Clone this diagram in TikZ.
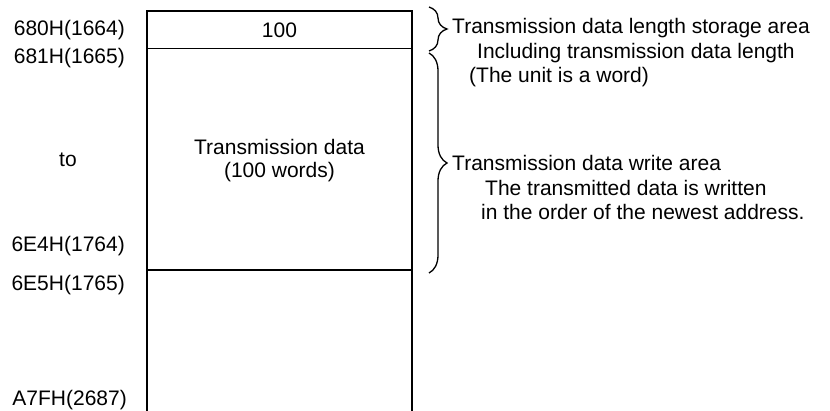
\documentclass[tikz,border=0pt]{standalone}
\usepackage{fontspec}
\setmainfont{Liberation Sans}
\usetikzlibrary{decorations.pathreplacing}
\begin{document}
\begin{tikzpicture}[x=1pt,y=-1pt,
    font=\fontsize{21}{25}\selectfont,
    addr/.style={anchor=east,inner sep=0pt},
    note/.style={anchor=west,inner sep=0pt},
    areabrace/.style={decorate,decoration={brace,amplitude=18pt},line width=1.3pt}]
    \useasboundingbox (0,0) rectangle (830,411);
    \draw[line width=1.7pt] (147,411) -- (147,11) -- (412,11) -- (412,411);
    \draw[line width=1.2pt] (147,48.5) -- (412,48.5);
    \draw[line width=1.2pt] (147,270) -- (412,270);
    \node (len) at (279.5,30) {100};
    \node[inner sep=0pt] (data1) at (279.5,147) {Transmission data};
    \node[inner sep=0pt] (data2) at (279.5,172) {(100 words)};
    \node[addr] (a680) at (125,30) {680H(1664)};
    \node[addr] (a681) at (125,58) {681H(1665)};
    \node (ato) at (68,160) {to};
    \node[addr] (a6e4) at (125,246) {6E4H(1764)};
    \node[addr] (a6e5) at (125,285) {6E5H(1765)};
    \node[addr] (aa7f) at (127,400) {A7FH(2687)};
    \coordinate (lenTop) at (429,7);
    \coordinate (lenBot) at (429,51);
    \coordinate (wrTop) at (429,53);
    \coordinate (wrBot) at (429,273);
    \draw[areabrace] (lenTop) -- (lenBot);
    \draw[areabrace] (wrTop) -- (wrBot);
    \node[note] (n1a) at (452,28) {Transmission data length storage area};
    \node[note] (n1b) at (477,53) {Including transmission data length};
    \node[note] (n1c) at (469,77) {(The unit is a word)};
    \node[note] (n2a) at (452,163) {Transmission data write area};
    \node[note] (n2b) at (485,188) {The transmitted data is written};
    \node[note] (n2c) at (481,212) {in the order of the newest address.};
\end{tikzpicture}
\end{document}
